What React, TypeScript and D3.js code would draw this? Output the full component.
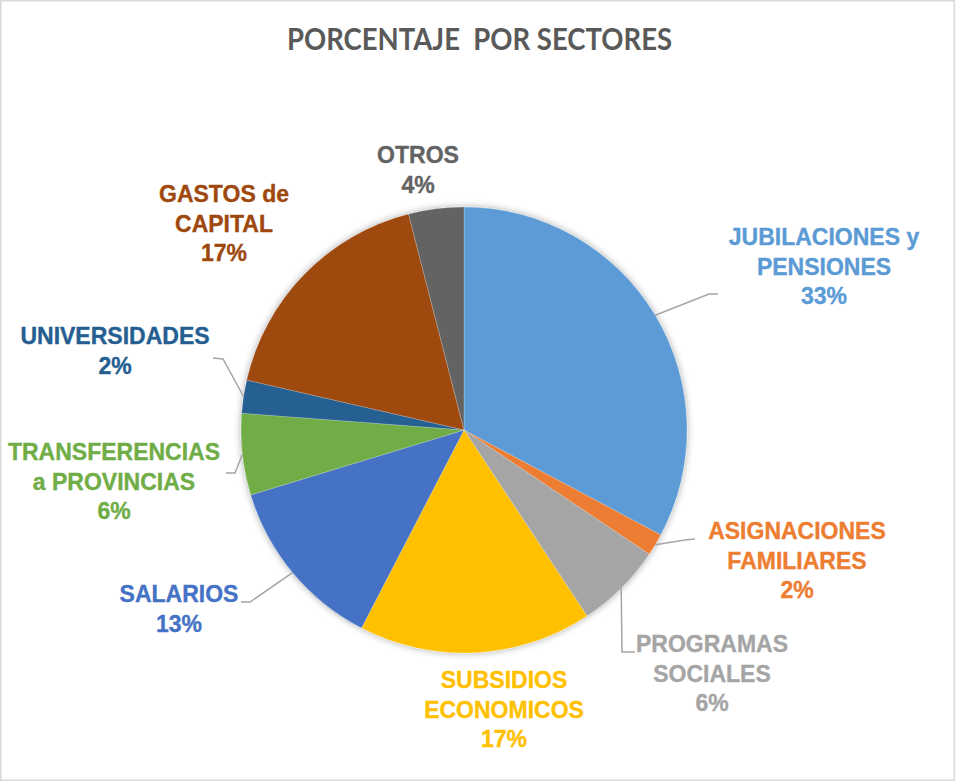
import React from "react";
import * as d3 from "d3";

const categories = [
  "JUBILACIONES y PENSIONES",
  "ASIGNACIONES FAMILIARES",
  "PROGRAMAS SOCIALES",
  "SUBSIDIOS ECONOMICOS",
  "SALARIOS",
  "TRANSFERENCIAS a PROVINCIAS",
  "UNIVERSIDADES",
  "GASTOS de CAPITAL",
  "OTROS",
];
const values = [32.8, 1.6, 6.3, 16.9, 12.7, 5.9, 2.4, 17.4, 4.0];
const colors = ["#5B9BD5", "#ED7D31", "#A5A5A5", "#FFC000", "#4472C4", "#70AD47", "#255E91", "#9E480E", "#636363"];
const labelLines = [
  ["JUBILACIONES y", "PENSIONES"],
  ["ASIGNACIONES", "FAMILIARES"],
  ["PROGRAMAS", "SOCIALES"],
  ["SUBSIDIOS", "ECONOMICOS"],
  ["SALARIOS"],
  ["TRANSFERENCIAS", "a PROVINCIAS"],
  ["UNIVERSIDADES"],
  ["GASTOS de", "CAPITAL"],
  ["OTROS"],
];
const title = "PORCENTAJE  POR SECTORES";

// layout (not data)
const W = 956, H = 782;
const cx = 464, cy = 430, R = 223;
const labelPos: { x: number; y: number }[] = [
  { x: 824, y: 237 },
  { x: 797, y: 531 },
  { x: 712, y: 644 },
  { x: 504, y: 680 },
  { x: 179, y: 594 },
  { x: 114, y: 452 },
  { x: 115, y: 336 },
  { x: 224, y: 194 },
  { x: 418, y: 155 },
];
const leaders: ([number, number][] | null)[] = [
  [[709, 294], [718, 294]],
  [[685, 540], [695, 539]],
  [[622, 652], [635, 652]],
  null,
  [[250, 602], [241, 602]],
  [[235, 473], [226, 473]],
  [[223, 359], [213, 358]],
  null,
  null,
];

export default function App() {
  const pie = d3.pie<number>().sort(null).value((d) => d);
  const arcs = pie(values);
  const arcGen = d3.arc<d3.PieArcDatum<number>>().innerRadius(0).outerRadius(R);
  const lineH = 29.5;
  return (
    <svg width={W} height={H} style={{ position: "fixed", left: 0, top: 0 }} xmlns="http://www.w3.org/2000/svg">
      <defs>
        <filter id="sh" x="-20%" y="-20%" width="140%" height="140%">
          <feDropShadow dx="0" dy="0" stdDeviation="3.5" floodColor="#000" floodOpacity="0.35" />
        </filter>
      </defs>
      <rect x={0.75} y={0.75} width={W - 2.5} height={H - 2.5} fill="#fff" stroke="#D9D9D9" strokeWidth={1.5} />
      <text x={287} y={50} textLength={385} lengthAdjust="spacingAndGlyphs" fontFamily="Lato, 'Open Sans', sans-serif" fontWeight="bold" fontSize={29.5} fill="#595959" style={{ whiteSpace: "pre" }}>
        {title}
      </text>
      <g transform={`translate(${cx},${cy})`} filter="url(#sh)">
        {arcs.map((a, i) => (
          <path key={i} d={arcGen(a) || ""} fill={colors[i]} stroke="#ffffff" strokeOpacity={0.35} strokeWidth={0.6} />
        ))}
      </g>
      {arcs.map((a, i) => {
        const lp = leaders[i];
        if (!lp) return null;
        const mid = (a.startAngle + a.endAngle) / 2;
        const sx = cx + R * Math.sin(mid);
        const sy = cy - R * Math.cos(mid);
        const pts: [number, number][] = [[sx, sy], ...lp];
        return <path key={"l" + i} d={d3.line()(pts) || ""} fill="none" stroke="#A6A6A6" strokeWidth={1.5} />;
      })}
      {arcs.map((a, i) => {
        const p = labelPos[i];
        const lines = [...labelLines[i], `${Math.round(values[i])}%`];
        return (
          <text key={"t" + i} textAnchor="middle" fontFamily="'Liberation Sans', Arial, sans-serif" fontWeight="bold" fontSize={23} fill={colors[i]} stroke={colors[i]} strokeWidth={0.35}>
            {lines.map((s, j) => (
              <tspan key={j} x={p.x} y={p.y + j * lineH} dy="0.36em" style={{ whiteSpace: "pre" }}>
                {s}
              </tspan>
            ))}
          </text>
        );
      })}
    </svg>
  );
}
